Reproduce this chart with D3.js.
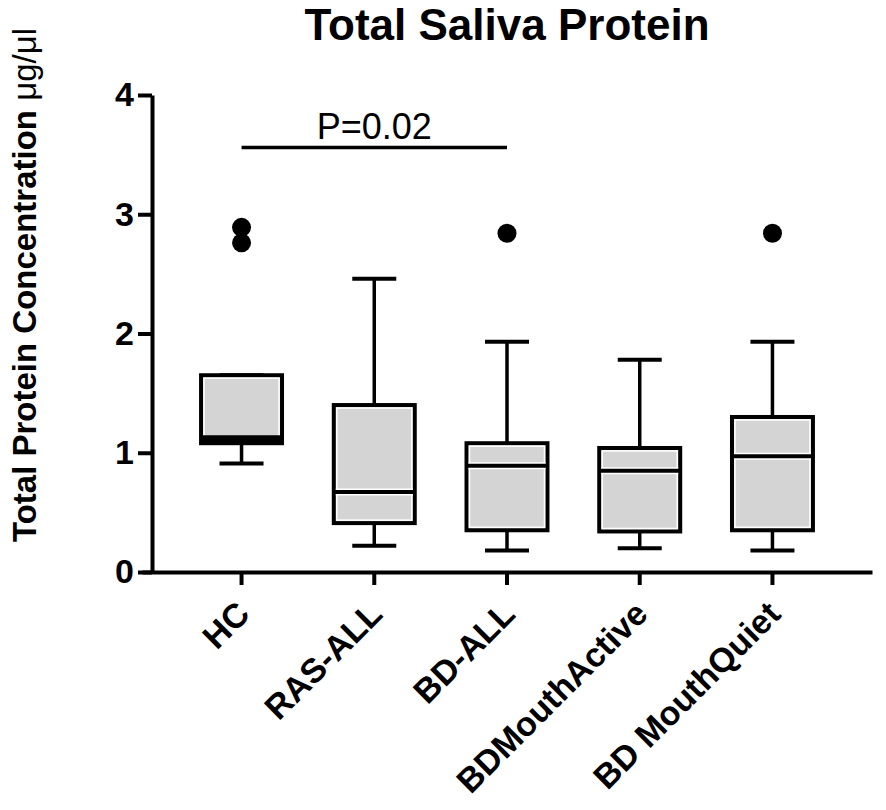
<!DOCTYPE html>
<html>
<head>
<meta charset="utf-8">
<script src="https://cdn.jsdelivr.net/npm/d3@7"></script>
<style>
  body { margin: 0; background: #fff; }
  svg { display: block; font-family: "Liberation Sans", Arial, sans-serif; }
</style>
</head>
<body>
<div id="chart"></div>
<script>
// data
const categories = ["HC", "RAS-ALL", "BD-ALL", "BDMouthActive", "BD MouthQuiet"]
const whiskerLow = [0.91, 0.22, 0.18, 0.20, 0.18]
const q1 = [1.08, 0.41, 0.35, 0.34, 0.35]
const median = [1.13, 0.67, 0.89, 0.85, 0.97]
const q3 = [1.65, 1.40, 1.08, 1.04, 1.30]
const whiskerHigh = [1.65, 2.46, 1.93, 1.78, 1.93]
const outliers = [[2.89, 2.76], [], [2.84], [], [2.84]]
const yTicks = [0, 1, 2, 3, 4]
const pLabel = "P=0.02"
const pValueY = 3.56
const pGroups = ["HC", "BD-ALL"]

const boxes = categories.map((c, i) => ({
    name: c,
    lo: whiskerLow[i],
    q1: q1[i],
    med: median[i],
    q3: q3[i],
    hi: whiskerHigh[i],
    out: outliers[i],
}))

const width = 886
const height = 810

const svg = d3.select("#chart")
    .append("svg")
    .attr("width", width)
    .attr("height", height)

const xScale = d3.scaleBand()
    .domain(categories)
    .range([142, 872])
    .paddingInner(0.39)
    .paddingOuter(0.445)

const yScale = d3.scaleLinear()
    .domain([0, 4])
    .range([572, 95])

const center = d => xScale(d) + xScale.bandwidth() / 2

// title
svg.append("text")
    .attr("x", 507)
    .attr("y", 40)
    .attr("text-anchor", "middle")
    .style("font-size", "44px")
    .style("font-weight", "bold")
    .text("Total Saliva Protein")

// y axis label
const yLabel = svg.append("text")
    .attr("transform", "translate(36, 285) rotate(-90)")
    .attr("text-anchor", "middle")
    .style("font-size", "33px")
    .style("font-weight", "bold")
yLabel.append("tspan").text("Total Protein Concentration ")
yLabel.append("tspan").style("font-weight", "normal").text("μg/μl")

// boxes
const groups = svg.append("g")
    .selectAll("g")
    .data(boxes)
    .join("g")

const capW = 44

// whiskers
groups.append("line")
    .attr("x1", d => center(d.name))
    .attr("x2", d => center(d.name))
    .attr("y1", d => yScale(d.hi))
    .attr("y2", d => yScale(d.q3))
    .attr("stroke", "#000")
    .attr("stroke-width", 3.5)
groups.append("line")
    .attr("x1", d => center(d.name))
    .attr("x2", d => center(d.name))
    .attr("y1", d => yScale(d.q1))
    .attr("y2", d => yScale(d.lo))
    .attr("stroke", "#000")
    .attr("stroke-width", 3.5)
groups.selectAll(".cap")
    .data(d => [d.hi, d.lo].map(v => ({ name: d.name, v })))
    .join("line")
    .attr("class", "cap")
    .attr("x1", d => center(d.name) - capW / 2)
    .attr("x2", d => center(d.name) + capW / 2)
    .attr("y1", d => yScale(d.v))
    .attr("y2", d => yScale(d.v))
    .attr("stroke", "#000")
    .attr("stroke-width", 4)

groups.append("rect")
    .attr("x", d => xScale(d.name))
    .attr("width", xScale.bandwidth())
    .attr("y", d => yScale(d.q3))
    .attr("height", d => yScale(d.q1) - yScale(d.q3))
    .attr("fill", "#d4d4d4")
    .attr("stroke", "#000")
    .attr("stroke-width", 4)

// thin light edge inside the box outline
groups.append("rect")
    .attr("x", d => xScale(d.name) + 3)
    .attr("width", xScale.bandwidth() - 6)
    .attr("y", d => yScale(d.q3) + 3)
    .attr("height", d => Math.max(0, yScale(d.q1) - yScale(d.q3) - 6))
    .attr("fill", "none")
    .attr("stroke", "#fff")
    .attr("stroke-width", 1.5)

groups.append("line")
    .attr("x1", d => xScale(d.name) + 2)
    .attr("x2", d => xScale(d.name) + xScale.bandwidth() - 2)
    .attr("y1", d => yScale(d.med))
    .attr("y2", d => yScale(d.med))
    .attr("stroke", "#fff")
    .attr("stroke-width", 7)
    .attr("opacity", d => yScale(d.q1) - yScale(d.med) > 8 ? 1 : 0)
groups.append("line")
    .attr("x1", d => xScale(d.name))
    .attr("x2", d => xScale(d.name) + xScale.bandwidth())
    .attr("y1", d => yScale(d.med))
    .attr("y2", d => yScale(d.med))
    .attr("stroke", "#000")
    .attr("stroke-width", 4)

// HC: median sits right on the lower hinge, fill the gap
groups.filter(d => yScale(d.q1) - yScale(d.med) <= 8)
    .append("rect")
    .attr("x", d => xScale(d.name))
    .attr("width", xScale.bandwidth())
    .attr("y", d => yScale(d.med))
    .attr("height", d => yScale(d.q1) - yScale(d.med))
    .attr("fill", "#000")

// outliers
groups.selectAll("circle")
    .data(d => d.out.map(v => ({ name: d.name, v })))
    .join("circle")
    .attr("cx", d => center(d.name))
    .attr("cy", d => yScale(d.v))
    .attr("r", 9.5)
    .attr("fill", "#000")

// significance bracket
svg.append("line")
    .attr("x1", center(pGroups[0]))
    .attr("x2", center(pGroups[1]))
    .attr("y1", yScale(pValueY))
    .attr("y2", yScale(pValueY))
    .attr("stroke", "#000")
    .attr("stroke-width", 3.5)
svg.append("text")
    .attr("x", (center(pGroups[0]) + center(pGroups[1])) / 2)
    .attr("y", yScale(pValueY) - 8)
    .attr("text-anchor", "middle")
    .style("font-size", "36px")
    .text(pLabel)

// axes
const yAxis = svg.append("g")
    .attr("transform", "translate(152, 0)")
    .call(d3.axisLeft(yScale).tickValues(yTicks).tickFormat(d3.format("d"))
        .tickSize(14).tickSizeOuter(0).tickPadding(4))
yAxis.selectAll("path, line")
    .attr("stroke", "#000")
    .attr("stroke-width", 4)
yAxis.selectAll("text")
    .attr("fill", "#000")
    .style("font-size", "34px")
    .style("font-weight", "bold")
    .style("font-family", "'Liberation Sans', Arial, sans-serif")

const xAxis = svg.append("g")
    .attr("transform", "translate(0, 572)")
    .call(d3.axisBottom(xScale).tickSize(13).tickSizeOuter(0))
xAxis.selectAll("path, line")
    .attr("stroke", "#000")
    .attr("stroke-width", 4)
xAxis.selectAll("text")
    .attr("x", 0)
    .attr("y", 0)
    .attr("dy", 0)
    .attr("fill", "#000")
    .attr("text-anchor", "end")
    .attr("transform", "translate(10, 44) rotate(-45)")
    .style("font-size", "34px")
    .style("font-weight", "bold")
    .style("font-family", "'Liberation Sans', Arial, sans-serif")
</script>
</body>
</html>
